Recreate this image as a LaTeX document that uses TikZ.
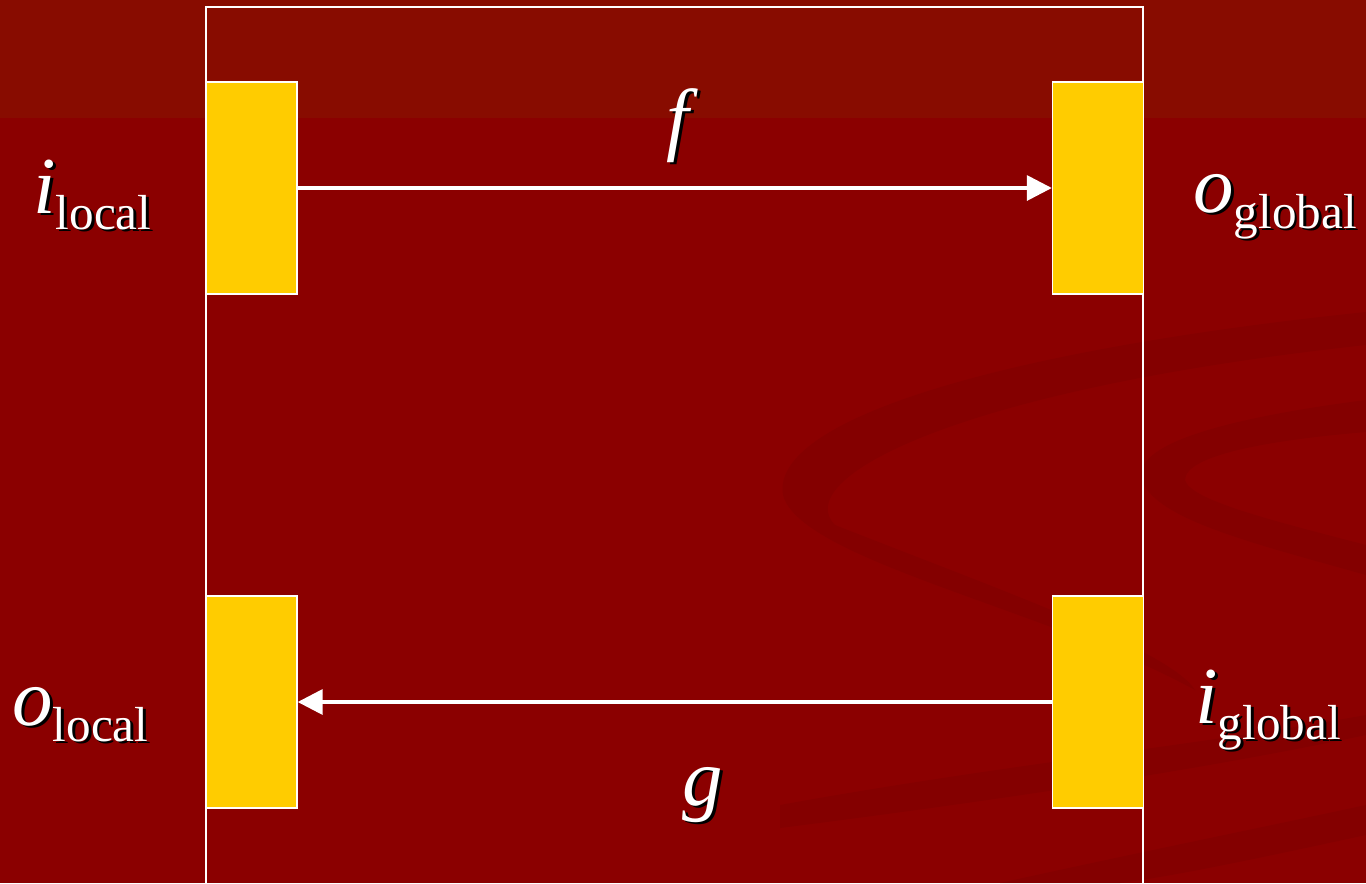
\documentclass[tikz,border=0pt]{standalone}
\usepackage{fontspec}
\setmainfont{Liberation Serif}
\usetikzlibrary{arrows.meta,positioning}
\definecolor{slidered}{RGB}{139,0,0}
\definecolor{slidetop}{RGB}{136,12,0}
\definecolor{swirlred}{RGB}{122,0,0}
\definecolor{portyellow}{RGB}{255,204,0}
\newcommand{\shad}[1]{\makebox[0pt][l]{\kern1.6pt\raisebox{-1.6pt}{\color{black}#1}}{#1}}
\newcommand{\sublbl}[2]{\shad{\itshape #1}\raisebox{-0.2em}{\fontsize{28}{28}\selectfont\shad{\upshape #2}}}

\begin{document}
\begin{tikzpicture}[x=0.02cm,y=-0.02cm,
							port/.style={draw=white,fill=portyellow,line width=0.8pt,minimum width=1.82cm,minimum height=4.24cm,inner sep=0pt},
							lbl/.style={text=white,inner sep=0pt,font=\fontsize{46}{46}\selectfont},
							flow/.style={draw=white,line width=2pt,-{Triangle[length=0.5cm,width=0.5cm]}},
							swirl/.style={fill=swirlred,opacity=0.4}]
							
							\useasboundingbox (0,0) rectangle (1366,883);
							\fill[slidered] (0,0) rectangle (1366,883);
							\fill[slidetop] (0,0) rectangle (1366,118);
							
							\fill[swirl] (1366,312) .. controls (1000,350) and (770,420) .. (783,495)
								.. controls (800,560) and (1050,610) .. (1195,690)
								.. controls (1170,650) and (1000,590) .. (835,525)
								.. controls (790,480) and (950,390) .. (1366,345) -- cycle;
							\fill[swirl] (1366,400) .. controls (1250,415) and (1130,440) .. (1142,480)
								.. controls (1155,520) and (1260,545) .. (1366,575)
								-- (1366,545) .. controls (1270,520) and (1190,500) .. (1185,480)
								.. controls (1185,455) and (1270,440) .. (1366,432) -- cycle;
							\fill[swirl] (780,805) .. controls (1000,765) and (1200,745) .. (1366,715)
								-- (1366,735) .. controls (1200,770) and (1000,800) .. (780,828) -- cycle;
							\fill[swirl] (1000,883) .. controls (1150,850) and (1250,830) .. (1366,805)
								-- (1366,835) .. controls (1250,860) and (1180,875) .. (1120,883) -- cycle;
							
							\draw[white,line width=1.1pt] (206,883) -- (206,7) -- (1143,7) -- (1143,883);
							
							\node[port] (inl)  at (251.5,188) {};
							\node[port] (outg) at (1098,188)  {};
							\node[port] (outl) at (251.5,702) {};
							\node[port] (ing)  at (1098,702)  {};
							
							\draw[flow] (inl) -- (outg);
							\draw[flow] (ing) -- (outl);
							
							\node[lbl,anchor=base west] (ilocal)  at (33,213)   {\sublbl{i}{local}};
							\node[lbl,anchor=base west] (oglobal) at (1193,212) {\sublbl{o}{global}};
							\node[lbl,anchor=base west] (olocal)  at (12,725)   {\sublbl{o}{local}};
							\node[lbl,anchor=base west] (iglobal) at (1195,723) {\sublbl{i}{global}};
							\node[lbl,anchor=base] (flbl) at (678,145) {\shad{\itshape f}};
							\node[lbl,anchor=base] (glbl) at (703,805) {\shad{\itshape g}};
						\end{tikzpicture}
\end{document}
